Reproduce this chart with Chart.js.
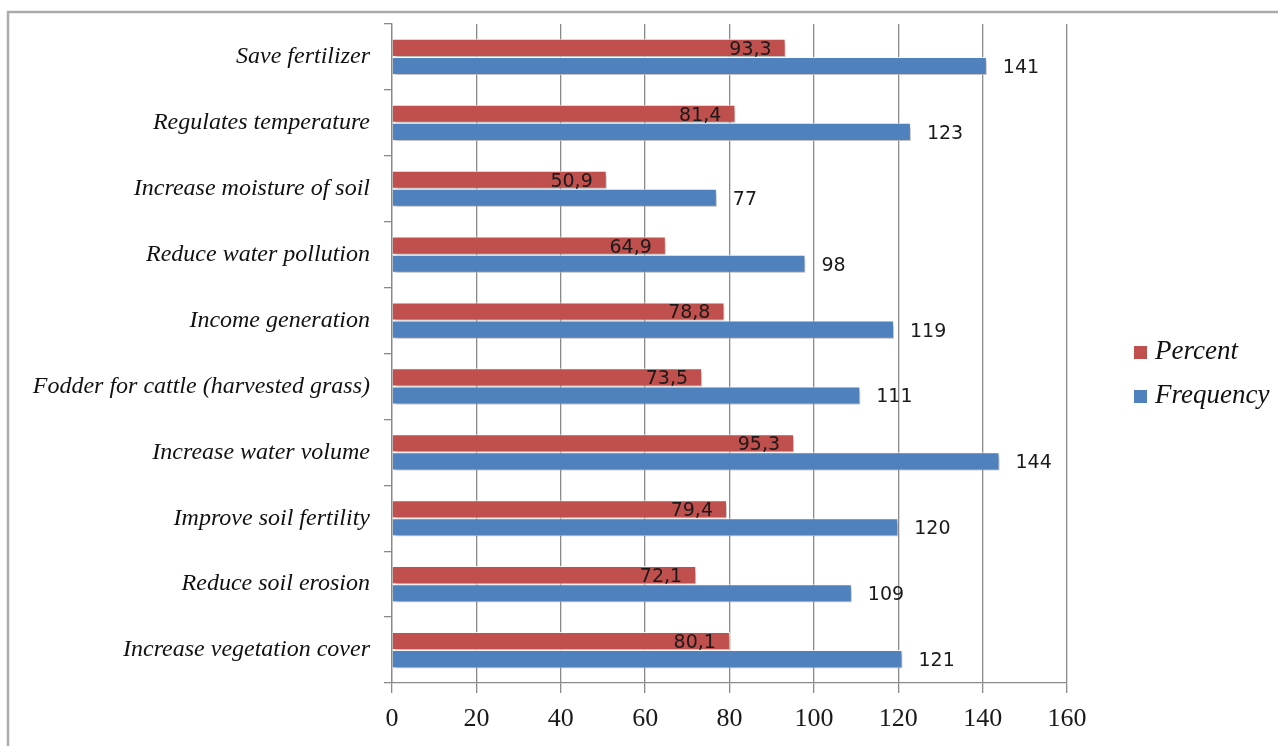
<!DOCTYPE html>
<html>
<head>
<meta charset="utf-8">
<style>
  html, body { margin: 0; padding: 0; background: #fff; }
  #wrap { width: 1278px; height: 746px; }
</style>
<script src="https://cdn.jsdelivr.net/npm/chart.js@4/dist/chart.umd.min.js"></script>
</head>
<body>
<div id="wrap"><canvas id="chart" width="1278" height="746"></canvas></div>
<script>
// DATA //
const categories = [
  "Save fertilizer",
  "Regulates temperature",
  "Increase moisture of soil",
  "Reduce water pollution",
  "Income generation",
  "Fodder for cattle (harvested grass)",
  "Increase water volume",
  "Improve soil fertility",
  "Reduce soil erosion",
  "Increase vegetation cover",
];
const percent = [93.3, 81.4, 50.9, 64.9, 78.8, 73.5, 95.3, 79.4, 72.1, 80.1];
const frequency = [141, 123, 77, 98, 119, 111, 144, 120, 109, 121];
const xTicks = [0, 20, 40, 60, 80, 100, 120, 140, 160];

const RED = "#C0504D";
const BLUE = "#4F81BD";
const GRID = "#8a8a8a";
const serif = "'Liberation Serif', 'Times New Roman', serif";

// PLUGINS //

// outer frame of the picture (only top and left edge are visible)
const framePlugin = {
  id: "frame",
  beforeDraw(chart) {
    const ctx = chart.ctx;
    ctx.save();
    ctx.strokeStyle = "#aaaaaa";
    ctx.lineWidth = 2.5;
    ctx.beginPath();
    ctx.moveTo(8, 746);
    ctx.lineTo(8, 12);
    ctx.lineTo(1278, 12);
    ctx.stroke();
    ctx.restore();
  },
};

// soft shadow under the bars
const shadowPlugin = {
  id: "barShadow",
  beforeDatasetsDraw(chart) {
    const ctx = chart.ctx;
    ctx.save();
    ctx.shadowColor = "rgba(0,0,0,0.28)";
    ctx.shadowOffsetX = 2;
    ctx.shadowOffsetY = 3;
    ctx.shadowBlur = 4;
  },
  afterDatasetsDraw(chart) {
    chart.ctx.restore();
  },
};

// value labels next to the bars
const labelPlugin = {
  id: "valueLabels",
  afterDatasetsDraw(chart) {
    const ctx = chart.ctx;
    ctx.save();
    ctx.font = "19px 'DejaVu Sans', Verdana, sans-serif";
    ctx.fillStyle = "#1a1a1a";
    ctx.textBaseline = "middle";
    chart.getDatasetMeta(0).data.forEach((bar, i) => {
      ctx.textAlign = "right";
      ctx.fillText(String(percent[i]).replace(".", ","), bar.x - 14, bar.y + 2);
    });
    chart.getDatasetMeta(1).data.forEach((bar, i) => {
      ctx.textAlign = "left";
      ctx.fillText(String(frequency[i]), bar.x + 16, bar.y + 2);
    });
    ctx.restore();
  },
};

// legend on the right
const legendPlugin = {
  id: "sideLegend",
  afterDraw(chart) {
    const ctx = chart.ctx;
    const items = chart.data.datasets;
    ctx.save();
    ctx.font = "italic 27px " + serif;
    ctx.textBaseline = "middle";
    ctx.textAlign = "left";
    items.forEach((ds, i) => {
      const y = 352 + i * 44;
      ctx.fillStyle = ds.backgroundColor;
      ctx.fillRect(1134, y - 6, 13, 13);
      ctx.fillStyle = "#111";
      ctx.fillText(ds.label, 1155, y);
    });
    ctx.restore();
  },
};

// CHART //
const chart = new Chart(document.getElementById("chart"), {
  type: "bar",
  data: {
    labels: categories,
    datasets: [
      {
        label: "Percent",
        data: percent,
        backgroundColor: RED,
        borderColor: "rgba(255,255,255,0.85)",
        borderWidth: 1,
        categoryPercentage: 0.55,
        barPercentage: 1.0,
      },
      {
        label: "Frequency",
        data: frequency,
        backgroundColor: BLUE,
        borderColor: "rgba(255,255,255,0.85)",
        borderWidth: 1,
        categoryPercentage: 0.55,
        barPercentage: 1.0,
      },
    ],
  },
  options: {
    indexAxis: "y",
    responsive: false,
    animation: false,
    layout: { padding: { left: 8, right: 211, top: 24, bottom: 0 } },
    plugins: {
      legend: { display: false },
      tooltip: { enabled: false },
    },
    scales: {
      x: {
        min: 0,
        max: 160,
        afterBuildTicks(scale) {
          scale.ticks = xTicks.map((v) => ({ value: v }));
        },
        afterFit(scale) {
          scale.height = 63;
        },
        grid: {
          color: GRID,
          lineWidth: 1.3,
          tickLength: 10,
          drawTicks: true,
        },
        border: { color: GRID, width: 1.3 },
        ticks: {
          color: "#1a1a1a",
          padding: 11,
          font: { family: serif, size: 26 },
        },
      },
      y: {
        afterFit(scale) {
          scale.width = 384;
          // let the plot start right at the top padding
          scale.paddingTop = 0;
          scale.paddingBottom = 0;
        },
        grid: {
          offset: true,
          drawOnChartArea: false,
          color: GRID,
          lineWidth: 1.3,
          tickLength: 8,
        },
        border: { color: GRID, width: 1.3 },
        ticks: {
          color: "#111",
          padding: 14,
          autoSkip: false,
          font: { family: serif, size: 24, style: "italic" },
        },
      },
    },
  },
  plugins: [framePlugin, shadowPlugin, labelPlugin, legendPlugin],
});
</script>
</body>
</html>
